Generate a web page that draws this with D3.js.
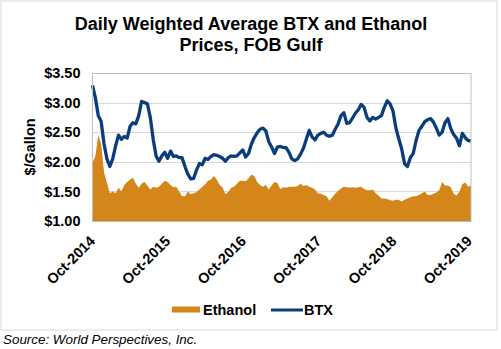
<!DOCTYPE html>
<html><head><meta charset="utf-8">
<script src="https://cdn.jsdelivr.net/npm/d3@7"></script>
<style>body{margin:0;background:#fff} text{font-family:"Liberation Sans",Arial,sans-serif}</style>
</head><body><svg id="c" width="501" height="349"></svg>
<script>
// ---- data (biweekly samples) ----
const startDate = "2014-10-01";
const stepDays = 14;
const btxValues = [
3.29,3.08,2.78,2.68,2.30,2.05,1.92,2.05,2.27,2.45,2.38,2.43,2.40,2.60,2.66,2.64,2.78,3.02,3.00,2.98,
2.75,2.38,2.10,2.01,2.10,2.16,2.06,2.18,2.09,2.10,2.07,2.07,1.92,1.79,1.71,1.72,1.86,1.97,1.95,2.06,
2.04,2.09,2.12,2.11,2.09,2.06,2.01,2.07,2.10,2.09,2.10,2.15,2.20,2.08,2.14,2.30,2.41,2.49,2.55,2.57,
2.52,2.34,2.25,2.14,2.25,2.26,2.24,2.24,2.16,2.05,2.02,2.05,2.13,2.23,2.38,2.53,2.42,2.37,2.45,2.48,
2.50,2.45,2.43,2.45,2.55,2.64,2.78,2.83,2.65,2.66,2.74,2.82,2.88,2.97,2.92,2.75,2.69,2.75,2.72,2.75,
2.78,2.92,3.03,2.98,2.86,2.57,2.39,2.22,1.97,1.92,2.07,2.14,2.36,2.53,2.60,2.68,2.71,2.73,2.67,2.57,
2.45,2.50,2.66,2.73,2.56,2.46,2.40,2.27,2.48,2.41,2.36,2.35];
const ethanolValues = [
1.98,2.10,2.45,2.30,1.82,1.64,1.47,1.50,1.47,1.56,1.50,1.61,1.66,1.70,1.73,1.63,1.56,1.63,1.66,1.60,
1.53,1.58,1.56,1.58,1.63,1.68,1.66,1.61,1.57,1.58,1.50,1.42,1.42,1.50,1.45,1.47,1.49,1.53,1.58,1.62,
1.68,1.70,1.76,1.70,1.61,1.57,1.45,1.49,1.56,1.58,1.63,1.68,1.68,1.67,1.72,1.78,1.76,1.66,1.61,1.58,
1.61,1.53,1.60,1.66,1.64,1.54,1.57,1.56,1.58,1.58,1.58,1.59,1.63,1.59,1.61,1.58,1.56,1.53,1.47,1.46,
1.44,1.42,1.34,1.40,1.46,1.51,1.55,1.58,1.57,1.56,1.57,1.56,1.57,1.58,1.54,1.52,1.52,1.53,1.47,1.43,
1.38,1.38,1.37,1.35,1.34,1.36,1.36,1.33,1.36,1.38,1.40,1.42,1.42,1.44,1.47,1.50,1.44,1.44,1.46,1.48,
1.52,1.66,1.60,1.60,1.57,1.46,1.43,1.50,1.62,1.65,1.58,1.60];
const yTicks = [1.0, 1.5, 2.0, 2.5, 3.0, 3.5];
const xTickDates = ["2014-10-01","2015-10-01","2016-10-01","2017-10-01","2018-10-01","2019-10-01"];
const xTickLabels = ["Oct-2014","Oct-2015","Oct-2016","Oct-2017","Oct-2018","Oct-2019"];
const seriesNames = ["Ethanol","BTX"];
const seriesColors = ["#d4861a","#0b3d7e"];

// ---- layout ----
const svg = d3.select("#c");
const parse = d3.utcParse("%Y-%m-%d");
const t0 = parse(startDate);
const dates = btxValues.map((_, i) => d3.utcDay.offset(t0, i * stepDays));
const P = {left: 92.5, right: 471, top: 73, bottom: 221};

const x = d3.scaleUtc().domain([t0, dates[dates.length - 1]]).range([P.left, P.right]);
const y = d3.scaleLinear().domain([1.0, 3.5]).range([P.bottom, P.top]);

// outer frame
svg.append("rect").attr("x", 1).attr("y", 1).attr("width", 496).attr("height", 329)
  .attr("fill", "#fff").attr("stroke", "#d9d9d9").attr("stroke-width", 1);

// title
const title = svg.append("text").attr("text-anchor", "middle").attr("font-weight", "bold")
  .attr("font-size", 18).attr("fill", "#000");
title.append("tspan").attr("x", 251).attr("y", 29.5).text("Daily Weighted Average BTX and Ethanol");
title.append("tspan").attr("x", 251).attr("y", 51).text("Prices, FOB Gulf");

// gridlines
svg.append("g").selectAll("line").data(yTicks.slice(1, -1)).join("line")
  .attr("x1", P.left).attr("x2", P.right)
  .attr("y1", d => Math.round(y(d)) + 0.5).attr("y2", d => Math.round(y(d)) + 0.5)
  .attr("stroke", "#d9d9d9").attr("stroke-width", 1);

// ethanol area
const area = d3.area().x((d, i) => x(dates[i])).y0(y(1.0)).y1(d => y(d));
svg.append("path").datum(ethanolValues).attr("d", area).attr("fill", seriesColors[0]);

// BTX line
const line = d3.line().x((d, i) => x(dates[i])).y(d => y(d));
svg.append("path").datum(btxValues).attr("d", line).attr("fill", "none")
  .attr("stroke", seriesColors[1]).attr("stroke-width", 3.3).attr("stroke-linejoin", "round");

// plot border
svg.append("rect").attr("x", P.left).attr("y", P.top + 0.5).attr("width", P.right - P.left)
  .attr("height", P.bottom - P.top).attr("fill", "none").attr("stroke", "#bfbfbf").attr("stroke-width", 1);

// y axis
const yAxis = d3.axisLeft(y).tickValues(yTicks).tickFormat(d3.format("$.2f")).tickSize(0).tickPadding(12);
const gy = svg.append("g").attr("transform", `translate(${P.left},0)`).call(yAxis);
gy.select(".domain").remove();
gy.selectAll("text").attr("font-size", 14.5).attr("font-weight", "bold").attr("fill", "#000")
  .attr("font-family", '"Liberation Sans",Arial,sans-serif');

// y title
svg.append("text").attr("transform", "translate(35,147) rotate(-90)").attr("text-anchor", "middle")
  .attr("font-size", 14.5).attr("font-weight", "bold").attr("fill", "#000").text("$/Gallon");

// x axis
const xAxis = d3.axisBottom(x).tickValues(xTickDates.map(parse))
  .tickFormat((d, i) => xTickLabels[i]).tickSize(0).tickPadding(0);
const gx = svg.append("g").attr("transform", `translate(0,${P.bottom})`).call(xAxis);
gx.select(".domain").remove();
gx.selectAll("text").attr("font-size", 14.5).attr("font-weight", "bold").attr("fill", "#000")
  .attr("font-family", '"Liberation Sans",Arial,sans-serif')
  .attr("text-anchor", "end").attr("dy", 0).attr("y", 0)
  .attr("transform", "translate(3,21) rotate(-45)");

// legend
const lg = svg.append("g");
lg.append("rect").attr("x", 172).attr("y", 306.5).attr("width", 28).attr("height", 6).attr("fill", seriesColors[0]);
lg.append("text").attr("x", 203).attr("y", 314.5).attr("font-size", 14.5).attr("font-weight", "bold").text(seriesNames[0]);
lg.append("line").attr("x1", 271).attr("x2", 303).attr("y1", 310).attr("y2", 310)
  .attr("stroke", seriesColors[1]).attr("stroke-width", 3);
lg.append("text").attr("x", 304).attr("y", 314.5).attr("font-size", 14.5).attr("font-weight", "bold").text(seriesNames[1]);

// source
svg.append("text").attr("x", 3).attr("y", 343.5).attr("font-size", 13.4).attr("font-style", "italic")
  .attr("fill", "#000").text("Source: World Perspectives, Inc.");
</script></body></html>
